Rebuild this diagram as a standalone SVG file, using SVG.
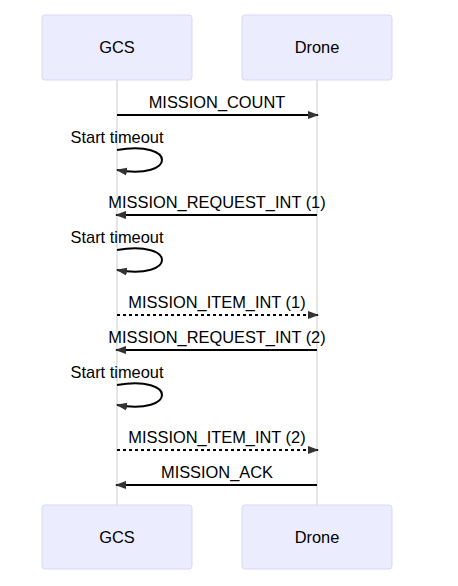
<svg xmlns="http://www.w3.org/2000/svg" width="458" height="586" viewBox="0 0 458 586">
<style>
.actor{fill:#ECECFF;stroke:#D7D7F7;stroke-width:1}
.life{stroke:#DDDDDD;stroke-width:1.5}
.atxt{font-family:"Liberation Sans",Arial,sans-serif;font-size:16.4px;fill:#000;text-anchor:middle}
.mtxt{font-family:"Liberation Sans",Arial,sans-serif;font-size:16.4px;fill:#000;text-anchor:middle}
.msg{stroke:#000;stroke-width:2;fill:none;marker-end:url(#ah)}
.dot{stroke-dasharray:3,3}
</style>
<defs>
<marker id="ah" markerUnits="userSpaceOnUse" markerWidth="12" markerHeight="10" refX="10" refY="4" orient="auto" viewBox="0 0 12 8">
<path d="M0,0 L11,4 L0,8 z" fill="#333"/>
</marker>
</defs>
<g id="lifelines">
<line class="life" x1="117" y1="80" x2="117" y2="505"/>
<line class="life" x1="317" y1="80" x2="317" y2="505"/>
</g>
<g id="actor-gcs-top"><rect class="actor" x="42" y="15" width="150" height="65" rx="3"/><text class="atxt" x="117" y="53">GCS</text></g>
<g id="actor-drone-top"><rect class="actor" x="242" y="15" width="150" height="65" rx="3"/><text class="atxt" x="317" y="53">Drone</text></g>
<g id="actor-gcs-bottom"><rect class="actor" x="42" y="505" width="150" height="64" rx="3"/><text class="atxt" x="117" y="543">GCS</text></g>
<g id="actor-drone-bottom"><rect class="actor" x="242" y="505" width="150" height="64" rx="3"/><text class="atxt" x="317" y="543">Drone</text></g>
<g id="connectors">
<line class="msg" x1="117" y1="115" x2="318" y2="115"/>
<path class="msg" d="M117,150 C177,140 177,180 117,170"/>
<line class="msg" x1="317" y1="215" x2="116" y2="215"/>
<path class="msg" d="M117,250 C177,240 177,280 117,270"/>
<line class="msg dot" x1="117" y1="315" x2="318" y2="315"/>
<line class="msg" x1="317" y1="350" x2="116" y2="350"/>
<path class="msg" d="M117,385 C177,375 177,415 117,405"/>
<line class="msg dot" x1="117" y1="450" x2="318" y2="450"/>
<line class="msg" x1="317" y1="485" x2="116" y2="485"/>
</g>
<g id="labels">
<text class="mtxt" x="217" y="108">MISSION_COUNT</text>
<text class="mtxt" x="117" y="143">Start timeout</text>
<text class="mtxt" x="217" y="208">MISSION_REQUEST_INT (1)</text>
<text class="mtxt" x="117" y="243">Start timeout</text>
<text class="mtxt" x="217" y="308">MISSION_ITEM_INT (1)</text>
<text class="mtxt" x="217" y="343">MISSION_REQUEST_INT (2)</text>
<text class="mtxt" x="117" y="378">Start timeout</text>
<text class="mtxt" x="217" y="443">MISSION_ITEM_INT (2)</text>
<text class="mtxt" x="217" y="478">MISSION_ACK</text>
</g>
</svg>
